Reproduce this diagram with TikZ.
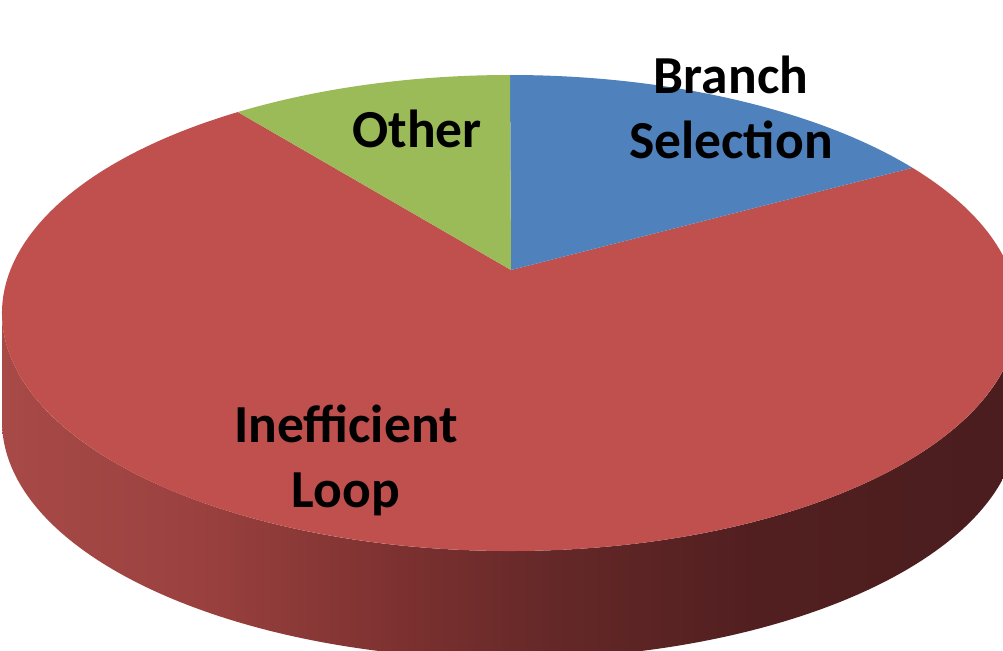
\documentclass[tikz,border=0pt]{standalone}
\usepackage{fontspec}
\setmainfont{Carlito}
\definecolor{pieRed}{HTML}{C0504D}
\definecolor{pieBlue}{HTML}{4F81BD}
\definecolor{pieGreen}{HTML}{9BBB59}
\definecolor{sideA}{HTML}{A84A47}
\definecolor{sideB}{HTML}{9A413F}
\definecolor{sideC}{HTML}{7C3130}
\definecolor{sideD}{HTML}{652828}
\definecolor{sideE}{HTML}{521F20}
\definecolor{sideF}{HTML}{4A1D1E}
\pgfdeclarehorizontalshading{sideshade}{100bp}{color(0bp)=(sideA); color(25bp)=(sideA); color(34.7bp)=(sideB); color(44.6bp)=(sideC); color(52bp)=(sideD); color(61.8bp)=(sideE); color(75bp)=(sideF); color(100bp)=(sideF)}
\tikzset{
  lbl/.style={font=\fontsize{53.5}{65}\selectfont\bfseries, text=black, align=center, inner sep=0pt, anchor=base},
  slice/.style={draw=none}
}
\begin{document}
\begin{tikzpicture}[x=1pt,y=1pt]
\useasboundingbox (0,0) rectangle (1003,-650);
\clip (0,0) rectangle (1003,-650);
\fill[white] (0,0) rectangle (1003,-650);
% side wall
\shade[shading=sideshade] (2,-313) -- (2,-421)
  arc[start angle=180,end angle=360,x radius=508,y radius=238]
  -- (1018,-313)
  arc[start angle=0,end angle=-180,x radius=508,y radius=238] -- cycle;
% top face slices
\coordinate (apex) at (511,-270);
\fill[pieRed,slice] (apex) -- ([shift={(510,-313)}]122.4:508 and 238)
  arc[start angle=122.4,end angle=397.6,x radius=508,y radius=238] -- cycle;
\fill[pieBlue,slice] (apex) -- ([shift={(510,-313)}]37.6:508 and 238)
  arc[start angle=37.6,end angle=90,x radius=508,y radius=238] -- cycle;
\fill[pieGreen,slice] (apex) -- ([shift={(510,-313)}]90:508 and 238)
  arc[start angle=90,end angle=122.4,x radius=508,y radius=238] -- cycle;
% labels (anchor=base is the baseline of the last line)
\node[lbl] (branch) at (731,-158) {Branch\\Selection};
\node[lbl] (other) at (417,-147) {Other};
\node[lbl] (loop) at (346,-507) {Inefficient\\Loop};
\end{tikzpicture}
\end{document}
